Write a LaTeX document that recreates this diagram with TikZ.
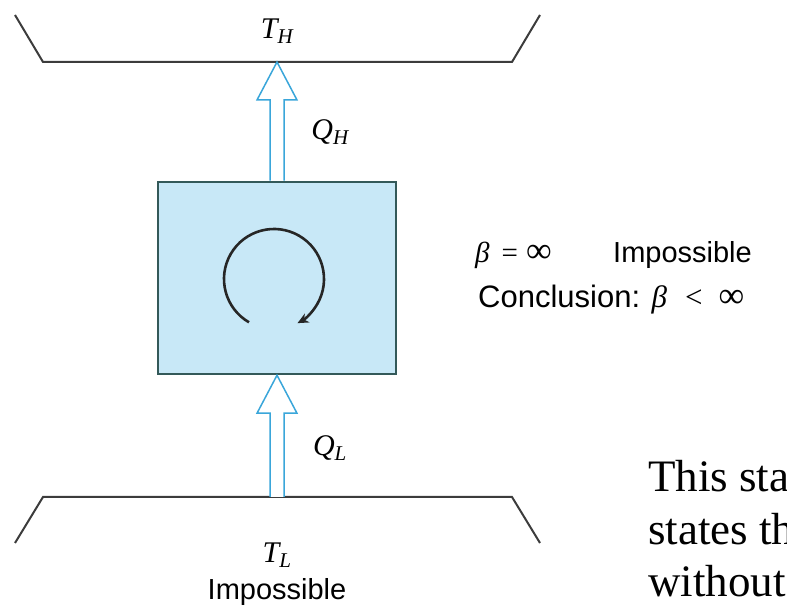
\documentclass[tikz,border=0pt]{standalone}
\usepackage{fontspec}
\setmainfont{Liberation Serif}
\setsansfont{Liberation Sans}
\usetikzlibrary{arrows.meta,positioning,calc}

\definecolor{cyclefill}{HTML}{C8E8F7}
\definecolor{heatblue}{HTML}{3AA6DA}
\definecolor{wallgray}{HTML}{3C3C3C}

% hollow heat-flow arrow, drawn upward from #1 to #2
\newcommand{\heatarrow}[2]{\draw[heat] let \p1=(#1), \p2=(#2) in
  (\x1-7pt,\y1) -- (\x1-7pt,\y2-38pt) -- (\x1-20pt,\y2-38pt) -- (\x2,\y2)
  -- (\x1+20pt,\y2-38pt) -- (\x1+7pt,\y2-38pt) -- (\x1+7pt,\y1);}
\newcommand{\sym}[2]{{\rmfamily\itshape #1}\textsubscript{\rmfamily\itshape #2}}
\newcommand{\infsym}{{\rmfamily\fontsize{36}{36}\selectfont∞}}

\begin{document}
\begin{tikzpicture}[x=1pt,y=1pt,
  wall/.style={draw=wallgray,line width=2pt,line join=miter},
  engine/.style={draw=wallgray!85!cyan,fill=cyclefill,line width=2.5pt,minimum width=238pt,minimum height=192pt},
  heat/.style={draw=heatblue,fill=white,line width=1.5pt,line join=miter},
  cyc/.style={draw=black!85,line width=2.6pt,-{Stealth[length=11pt,width=10pt]}},
  lab/.style={font=\fontsize{30}{34}\selectfont,inner sep=0pt},
  note/.style={font=\sffamily\fontsize{29}{34}\selectfont,inner sep=0pt,anchor=base west}]
\useasboundingbox (0,0) rectangle (787,615);

% reservoirs
\coordinate (hot) at (277,553);
\coordinate (cold) at (277,118);
\draw[wall] (15,600) -- (43,553) -- (512,553) -- (540,600);
\draw[wall] (15,72) -- (43,118) -- (512,118) -- (540,72);
\node[lab] (TH) at (277,584) {\sym{T}{H}};
\node[lab] (TL) at (277,60) {\sym{T}{L}};
\node[note,anchor=center] (imp) at (277,23) {Impossible};

% cycle device
\node[engine] (eng) at (277,337) {};
\draw[cyc] ($(eng.center)+(-3,-1)$) ++(240:50) arc[start angle=240,end angle=-62,radius=50];

% heat flows
\heatarrow{eng.north}{hot}
\heatarrow{cold}{eng.south}
\node[lab] (QH) at (330,483) {\sym{Q}{H}};
\node[lab] (QL) at (330,167) {\sym{Q}{L}};

% statements
\node[note] (beta) at (475,352) {{\rmfamily\itshape β}\hspace{12pt}{\rmfamily=\hspace{8pt}\infsym}};
\node[note] (imp2) at (613,352) {Impossible};
\node[note,font=\sffamily\fontsize{31}{36}\selectfont] (concl) at (478,307) {Conclusion: {\rmfamily\itshape β}\hspace{18pt}{\rmfamily<\hspace{16pt}\infsym}};

% page text
\node[anchor=base west,inner sep=0pt,font=\fontsize{45}{52}\selectfont] (p1) at (648,123) {This sta};
\node[anchor=base west,inner sep=0pt,font=\fontsize{45}{52}\selectfont] (p2) at (648,70) {states th};
\node[anchor=base west,inner sep=0pt,font=\fontsize{45}{52}\selectfont] (p3) at (648,18) {without};
\end{tikzpicture}
\end{document}
